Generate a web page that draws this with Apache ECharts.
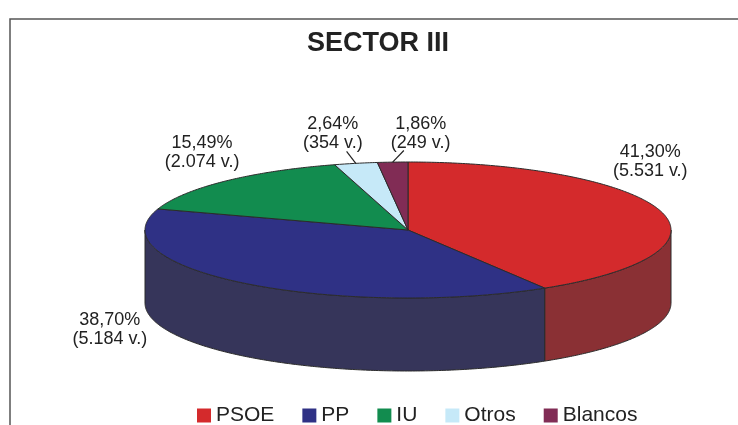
<!DOCTYPE html>
<html>
<head>
<meta charset="utf-8">
<script src="https://cdn.jsdelivr.net/npm/echarts@6/dist/echarts.min.js"></script>
<style>
  html, body { margin: 0; padding: 0; background: #fff; }
  #chart { width: 738px; height: 425px; }
</style>
</head>
<body>
<div id="chart"></div>
<script>
// datos
const partidos = ["PSOE", "PP", "IU", "Otros", "Blancos"]
const votos = [5531, 5184, 2074, 354, 249]
const porcentajes = [41.30, 38.70, 15.49, 2.64, 1.86]

// estilo
const coloresTapa = ["#d42a2c", "#2f3185", "#128c4f", "#c6e9f8", "#812c55"]
const coloresLado = ["#8a3034", "#36355a", "#0e6b3c", "#97b3bf", "#5f2140"]
// desplazamiento de cada etiqueta respecto al borde de su porción
const etiquetaDesplaz = [[-11, -50], [-135, 46], [-23, -29], [-23, -30], [28, -29]]

const CX = 408, CY = 230, RX = 263, RY = 68, ALTO = 73
const FUENTE = "Liberation Sans, Arial, sans-serif"

const total = votos.reduce((a, b) => a + b, 0)

function angulos(i) {
  let acc = 0
  for (let j = 0; j < i; j++) acc += votos[j]
  return [acc / total * Math.PI * 2, (acc + votos[i]) / total * Math.PI * 2]
}

function punto(t, dy) {
  return [CX + RX * Math.sin(t), CY - RY * Math.cos(t) + dy]
}

function arco(s, e, dy) {
  const pts = []
  const n = Math.max(2, Math.ceil((e - s) / 0.01))
  for (let k = 0; k <= n; k++) pts.push(punto(s + (e - s) * k / n, dy))
  return pts
}

function miles(v) {
  return String(v).replace(/\B(?=(\d{3})+(?!\d))/g, ".")
}

// pared lateral (solo la mitad delantera se ve)
function renderLado(params, api) {
  const i = params.dataIndex
  const [a1, a2] = angulos(i)
  const s = Math.max(a1, Math.PI / 2)
  const e = Math.min(a2, Math.PI * 1.5)
  if (s >= e) return null
  const pts = arco(s, e, 0).concat(arco(s, e, ALTO).reverse())
  return {
    type: "polygon",
    shape: { points: pts },
    style: { fill: coloresLado[i], stroke: "#2b2b2b", lineWidth: 1 }
  }
}

// tapa + etiqueta
function renderTapa(params, api) {
  const i = params.dataIndex
  const [a1, a2] = angulos(i)
  const pts = [[CX, CY]].concat(arco(a1, a2, 0))
  const medio = (a1 + a2) / 2
  const borde = punto(medio, 0)
  const [dx, dy] = etiquetaDesplaz[i]
  const texto = porcentajes[i].toFixed(2).replace(".", ",") + "%\n(" + miles(api.value(0)) + " v.)"
  const hijos = [
    {
      type: "polygon",
      shape: { points: pts },
      style: { fill: coloresTapa[i], stroke: "#2b2b2b", lineWidth: 1 }
    },
    {
      type: "text",
      x: borde[0] + dx,
      y: borde[1] + dy,
      style: {
        text: texto,
        fontSize: 18,
        fontFamily: FUENTE,
        fill: "#222",
        align: "center",
        verticalAlign: "middle",
        lineHeight: 19
      }
    }
  ]
  // línea guía para porciones pequeñas
  if (votos[i] / total < 0.05) {
    hijos.push({
      type: "line",
      shape: { x1: borde[0], y1: borde[1], x2: borde[0] + dx * 0.4, y2: borde[1] + dy * 0.4 },
      style: { stroke: "#222", lineWidth: 1.2 }
    })
  }
  return { type: "group", children: hijos }
}

const chart = echarts.init(document.getElementById("chart"))
const datos = partidos.map((n, i) => ({ name: n, value: votos[i] }))

chart.setOption({
  animation: false,
  title: {
    text: "SECTOR III",
    left: 307,
    top: 30,
    padding: 0,
    textStyle: { fontSize: 27, fontWeight: "bold", color: "#222", fontFamily: FUENTE }
  },
  legend: {
    data: partidos,
    left: 197,
    top: 405,
    padding: 0,
    icon: "rect",
    itemWidth: 14,
    itemHeight: 14,
    itemGap: 28,
    selectedMode: false,
    textStyle: { fontSize: 21, color: "#222", fontFamily: FUENTE }
  },
  graphic: [
    {
      type: "polyline",
      shape: { points: [[10, 425], [10, 19], [738, 19]] },
      style: { stroke: "#555", lineWidth: 1.5, fill: null }
    }
  ],
  series: [
    // solo para la leyenda
    {
      type: "pie",
      radius: [0, 0],
      center: [CX, CY],
      silent: true,
      label: { show: false },
      labelLine: { show: false },
      data: partidos.map((n, i) => ({ name: n, value: votos[i], itemStyle: { color: coloresTapa[i] } }))
    },
    {
      type: "custom",
      coordinateSystem: "none",
      renderItem: renderLado,
      data: datos,
      z: 2,
      silent: true
    },
    {
      type: "custom",
      coordinateSystem: "none",
      renderItem: renderTapa,
      data: datos,
      z: 3,
      silent: true
    }
  ]
})
</script>
</body>
</html>
